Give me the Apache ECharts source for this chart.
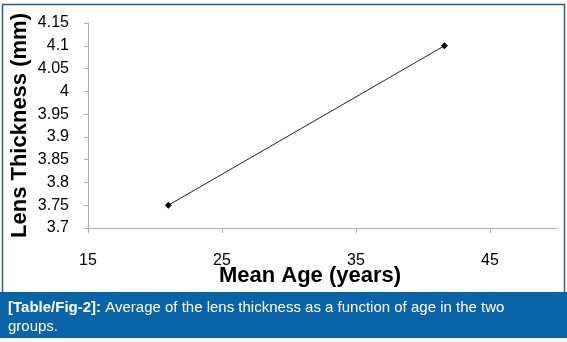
<!DOCTYPE html>
<html>
<head>
<meta charset="utf-8">
<script src="https://cdn.jsdelivr.net/npm/echarts@6/dist/echarts.min.js"></script>
<style>
  html, body { margin: 0; padding: 0; background: #fff; }
  #chart { width: 567px; height: 342px; }
</style>
</head>
<body>
<div id="chart"></div>
<script>
// Mean age of each group (years) and its mean lens thickness (mm)
const meanAge = [21, 41.6];
const lensThickness = [3.75, 4.10];

const xTitle = 'Mean Age (years)';
const yTitle = 'Lens Thickness (mm)';
const captionLabel = '[Table/Fig-2]:';
const captionLine1 = ' Average of the lens thickness as a function of age in the two';
const captionLine2 = 'groups.';

const points = meanAge.map((a, i) => [a, lensThickness[i]]);

const chart = echarts.init(document.getElementById('chart'), null, { renderer: 'canvas' });
chart.setOption({
  backgroundColor: '#fff',
  animation: false,
  grid: { left: 88, right: 10, top: 23, bottom: 114, containLabel: false },
  xAxis: {
    type: 'value',
    min: 15, max: 50, interval: 10,
    name: xTitle,
    nameLocation: 'middle',
    nameGap: 37,
    nameMoveOverlap: false,
    nameTextStyle: { fontFamily: 'Liberation Sans', fontWeight: 'bold', fontSize: 22, color: '#000', padding: [0, 25, 0, 0] },
    splitLine: { show: false },
    axisLine: { lineStyle: { color: '#b0b0b0', width: 1 } },
    axisTick: { show: true, length: 5, lineStyle: { color: '#b0b0b0' } },
    axisLabel: { margin: 25, fontFamily: 'Liberation Sans', fontSize: 16, color: '#000', showMaxLabel: false },
  },
  yAxis: {
    type: 'value',
    min: 3.7, max: 4.15, interval: 0.05,
    name: yTitle,
    nameLocation: 'middle',
    nameGap: 57,
    nameMoveOverlap: false,
    nameTextStyle: { fontFamily: 'Liberation Sans', fontWeight: 'bold', fontSize: 22, color: '#000' },
    splitLine: { show: false },
    axisLine: { show: true, lineStyle: { color: '#b0b0b0', width: 1 } },
    axisTick: { show: true, length: 4, lineStyle: { color: '#b0b0b0' } },
    axisLabel: { margin: 19, fontFamily: 'Liberation Sans', fontSize: 16, color: '#000' },
  },
  series: [{
    type: 'line',
    data: points,
    symbol: 'diamond',
    symbolSize: 7,
    itemStyle: { color: '#000' },
    lineStyle: { color: '#222', width: 1 },
  }],
  graphic: [
    {
      type: 'rect', silent: true,
      shape: { x: 2.5, y: 4.5, width: 562, height: 300 },
      style: { fill: null, stroke: '#2f5b8c', lineWidth: 1.5 },
    },
    {
      type: 'rect', silent: true,
      shape: { x: 0, y: 292, width: 567, height: 46 },
      style: { fill: '#0b63a7' },
    },
    {
      type: 'text', silent: true,
      left: 8, top: 300,
      style: {
        text: '{b|' + captionLabel + '}{r|' + captionLine1 + '}\n{r|' + captionLine2 + '}',
        rich: {
          b: { fontFamily: 'Liberation Sans', fontWeight: 'bold', fontSize: 15, fill: '#fff', lineHeight: 19 },
          r: { fontFamily: 'Liberation Sans', fontSize: 15, fill: '#fff', lineHeight: 19 },
        },
      },
    },
  ],
});
</script>
</body>
</html>
